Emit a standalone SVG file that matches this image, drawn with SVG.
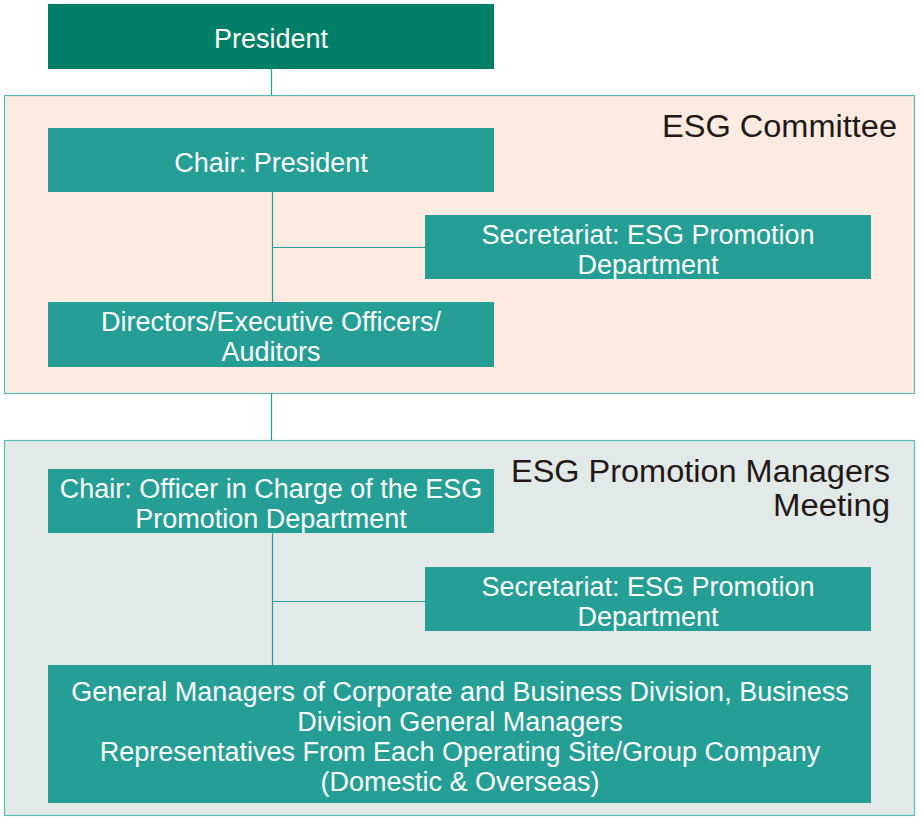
<svg xmlns="http://www.w3.org/2000/svg" width="922" height="818" viewBox="0 0 922 818">
<style>
.box{fill:#259E96;}
.t{font-family:"Liberation Sans",Arial,sans-serif;font-size:27px;fill:#ffffff;text-anchor:middle;}
.h{font-family:"Liberation Sans",Arial,sans-serif;font-size:31px;fill:#231815;text-anchor:end;}
.ln{stroke:#259E96;stroke-width:1.2;fill:none;}
</style>
<rect width="922" height="818" fill="#ffffff"/>
<g id="committee">
<rect x="4.5" y="95.5" width="910" height="298" fill="#FDEBE1" stroke="#5DBAB2" stroke-width="1.2"/>
<text class="h" x="897" y="137" textLength="235" lengthAdjust="spacingAndGlyphs">ESG Committee</text>
</g>
<g id="meeting">
<rect x="4.5" y="440.5" width="910" height="375" fill="#E1EAE8" stroke="#5DBAB2" stroke-width="1.2"/>
<text class="h" x="890" y="482" textLength="379" lengthAdjust="spacingAndGlyphs">ESG Promotion Managers</text>
<text class="h" x="890" y="516" textLength="117" lengthAdjust="spacingAndGlyphs">Meeting</text>
</g>
<g id="connectors">
<line class="ln" x1="271.5" y1="69" x2="271.5" y2="95"/>
<line class="ln" x1="272.5" y1="192" x2="272.5" y2="302"/>
<line class="ln" x1="272.5" y1="247.5" x2="425" y2="247.5"/>
<line class="ln" x1="271.5" y1="393" x2="271.5" y2="440"/>
<line class="ln" x1="272.5" y1="533" x2="272.5" y2="665"/>
<line class="ln" x1="272.5" y1="601.5" x2="425" y2="601.5"/>
</g>
<g id="president">
<rect x="48" y="4" width="446" height="65" fill="#007F68"/>
<text class="t" x="271" y="48">President</text>
</g>
<g id="chair1">
<rect class="box" x="48" y="128" width="446" height="64"/>
<text class="t" x="271" y="172">Chair: President</text>
</g>
<g id="secretariat1">
<rect class="box" x="425" y="215" width="446" height="64"/>
<text class="t" x="648" y="244">Secretariat: ESG Promotion</text>
<text class="t" x="648" y="274">Department</text>
</g>
<g id="directors">
<rect class="box" x="48" y="302" width="446" height="65"/>
<text class="t" x="271" y="331">Directors/Executive Officers/</text>
<text class="t" x="271" y="361">Auditors</text>
</g>
<g id="chair2">
<rect class="box" x="48" y="469" width="446" height="64"/>
<text class="t" x="271" y="498">Chair: Officer in Charge of the ESG</text>
<text class="t" x="271" y="528">Promotion Department</text>
</g>
<g id="secretariat2">
<rect class="box" x="425" y="567" width="446" height="64"/>
<text class="t" x="648" y="596">Secretariat: ESG Promotion</text>
<text class="t" x="648" y="626">Department</text>
</g>
<g id="members">
<rect class="box" x="48" y="665" width="823" height="138"/>
<text class="t" x="460" y="701">General Managers of Corporate and Business Division, Business</text>
<text class="t" x="460" y="731">Division General Managers</text>
<text class="t" x="460" y="761">Representatives From Each Operating Site/Group Company</text>
<text class="t" x="460" y="791">(Domestic &amp; Overseas)</text>
</g>
</svg>
